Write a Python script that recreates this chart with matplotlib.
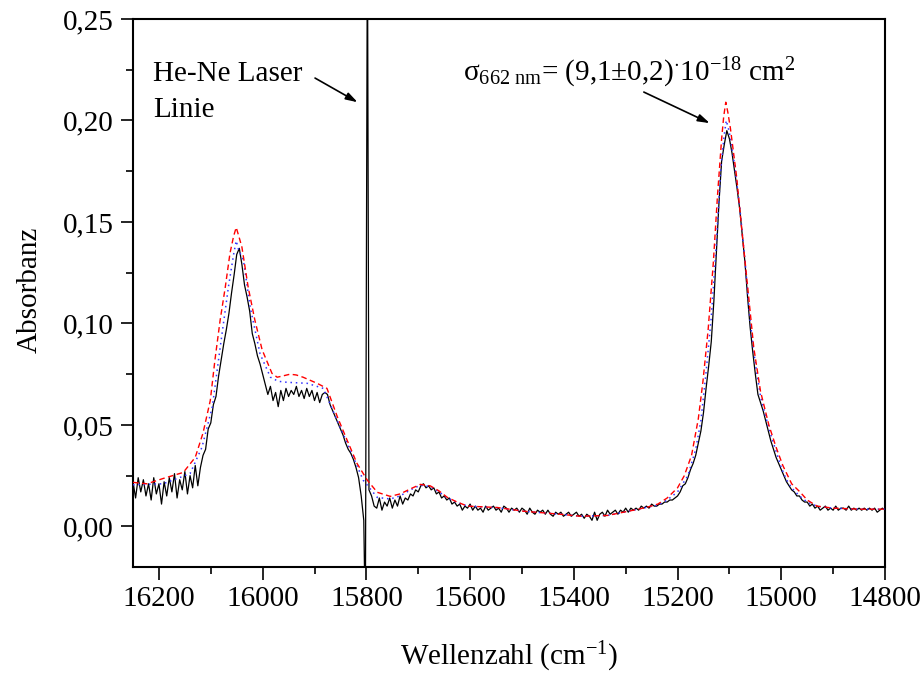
import numpy as np
import matplotlib
matplotlib.use("Agg")
import matplotlib.pyplot as plt
from matplotlib.ticker import MultipleLocator, FixedLocator, FixedFormatter

plt.rcParams['font.family'] = ['Liberation Serif', 'DejaVu Serif']
plt.rcParams['mathtext.fontset'] = 'custom'
plt.rcParams['mathtext.rm'] = 'Liberation Serif'
plt.rcParams['mathtext.it'] = 'Liberation Serif:italic'
plt.rcParams['mathtext.bf'] = 'Liberation Serif:bold'

# ---------------- data (absorbance in milli-units) ----------------
# measured spectrum, segment before the He-Ne line (16250 -> 15805, step 5)
wn_seg_a = np.arange(16250, 15804, -5)
abs_seg_a_milli = [
    22, 14, 24, 17, 23, 15, 21, 13, 24, 16,
    21, 11, 22, 15, 24, 17, 26, 14, 23, 18,
    27, 16, 25, 19, 30, 20, 29, 35, 38, 48,
    51, 60, 64, 74, 82, 90, 97, 105, 115, 124,
    134, 137, 129, 119, 113, 106, 95, 90, 84, 80,
    75, 70, 65, 69, 62, 66, 59, 67, 62, 68,
    64, 67, 65, 69, 64, 67, 63, 68, 64, 67,
    62, 66, 61, 65, 66, 65, 60, 57, 54, 51,
    48, 45, 41, 38, 36, 33, 29, 24, 15, 3,
]
# He-Ne laser line artefact
wn_laser = [15802, 15798, 15795]
abs_laser_milli = [-50, 300, 18]
# segment after the laser line (15790 -> 14800, step 5)
wn_seg_b = np.arange(15790, 14799, -5)
abs_seg_b_milli = [
    15, 10, 9, 14, 8, 12, 10, 14, 9, 13,
    10, 15, 11, 14, 13, 16, 15, 18, 17, 20,
    21, 19, 20, 18, 19, 16, 17, 14, 15, 13,
    14, 11, 12, 10, 11, 8, 10, 9, 11, 8,
    10, 8, 9, 7, 10, 8, 9, 10, 8, 9,
    7, 10, 9, 7, 9, 8, 9, 7, 9, 8,
    6, 9, 7, 6, 8, 7, 8, 6, 8, 6,
    5, 7, 6, 7, 5, 6, 7, 5, 6, 7,
    5, 6, 4, 6, 5, 3, 7, 3, 6, 7,
    5, 8, 6, 7, 8, 6, 8, 7, 9, 7,
    9, 8, 9, 8, 10, 9, 10, 9, 11, 10,
    10, 11, 11, 12, 12, 13, 13, 14, 15, 17,
    20, 21, 24, 28, 31, 35, 41, 47, 56, 68,
    79, 91, 111, 135, 160, 180, 188, 195, 191, 184,
    175, 166, 156, 143, 130, 113, 98, 86, 75, 65,
    61, 57, 52, 47, 42, 38, 34, 31, 28, 25,
    22, 20, 18, 17, 15, 15, 13, 12, 12, 10,
    11, 9, 10, 8, 9, 10, 8, 9, 8, 10,
    8, 9, 9, 8, 10, 8, 9, 8, 9, 8,
    9, 8, 9, 8, 9, 7, 8, 9, 8,
]

# fit 1 (red dashed)
fit_red_wn = [16250, 16223, 16192, 16153, 16130, 16115, 16101, 16092, 16082, 16072,
              16063, 16056, 16051, 16046, 16040, 16028, 16015, 16001, 15982, 15972,
              15960, 15947, 15935, 15922, 15895, 15876, 15856, 15837, 15818, 15798,
              15779, 15754, 15735, 15715, 15696, 15677, 15660, 15644, 15625, 15605,
              15547, 15497, 15426, 15387, 15335, 15285, 15258, 15238, 15220, 15200,
              15187, 15173, 15160, 15151, 15141, 15131, 15123, 15115, 15111, 15107,
              15103, 15098, 15086, 15076, 15066, 15053, 15040, 15024, 15010, 14997,
              14980, 14964, 14950, 14931, 14900, 14850, 14800]
fit_red_milli = [21.7, 21, 23.6, 26.6, 34, 46, 62, 82, 101.6, 118,
                 134.6, 143, 147.3, 143, 137.6, 118, 101.6, 87, 75.4, 73.5,
                 74.2, 75, 74.6, 73.5, 70.5, 68, 54, 42.4, 31, 22.7,
                 16.8, 14.8, 16, 18.5, 20.7, 20, 17.5, 14.3, 12, 10,
                 9.3, 7.5, 6, 5, 5.4, 8, 9.5, 11, 14, 19,
                 25, 35, 53, 71.5, 97, 130, 163, 191, 202, 209,
                 204, 196, 172, 146, 121, 88, 66.5, 50, 39, 30,
                 21, 17, 13, 10, 9, 8.5, 8.5]

# fit 2 (blue dotted)
fit_blue_wn = [16250, 16192, 16140, 16117, 16097, 16082, 16066, 16056, 16051, 16046,
               16037, 16024, 16005, 15985, 15970, 15953, 15914, 15883, 15856, 15830,
               15806, 15779, 15754, 15735, 15715, 15696, 15677, 15660, 15644, 15625,
               15605, 15547, 15497, 15426, 15387, 15335, 15285, 15258, 15238, 15220,
               15200, 15180, 15165, 15155, 15145, 15135, 15125, 15117, 15110, 15106,
               15100, 15090, 15080, 15070, 15060, 15050, 15040, 15030, 15020, 15010,
               15000, 14990, 14980, 14965, 14950, 14930, 14900, 14850, 14800]
fit_blue_milli = [20.5, 21, 26, 39, 59, 88, 118, 134, 140.7, 136,
                  131, 108, 85, 73.5, 71.5, 71, 70.5, 68, 52, 37,
                  22.7, 14.3, 13.5, 15, 18, 20.3, 19.6, 17, 14, 11.8,
                  10, 9.2, 7.5, 6, 5, 5.4, 8, 9.5, 10.5, 13,
                  17, 25, 38, 52, 76, 103, 140, 175, 193, 200,
                  194, 178, 157, 131, 101, 80, 64, 54, 45, 37,
                  29, 23, 19, 15, 12, 9.8, 9, 8.5, 8.5]

x_major_ticks = [16200, 16000, 15800, 15600, 15400, 15200, 15000, 14800]
x_tick_labels = ['16200', '16000', '15800', '15600', '15400', '15200', '15000', '14800']
y_major_ticks = [0.00, 0.05, 0.10, 0.15, 0.20, 0.25]
y_tick_labels = ['0,00', '0,05', '0,10', '0,15', '0,20', '0,25']

# ---------------- assemble ----------------
wn = np.concatenate([wn_seg_a, wn_laser, wn_seg_b])
absorb = np.concatenate([abs_seg_a_milli, abs_laser_milli, abs_seg_b_milli]) / 1000.0
red = np.array(fit_red_milli) / 1000.0
blue = np.array(fit_blue_milli) / 1000.0

fig = plt.figure(figsize=(9.21, 6.74), dpi=100)
ax = fig.add_axes([133 / 921, (674 - 567) / 674, (885 - 133) / 921, (567 - 19) / 674])

ax.plot(wn, absorb, color='black', lw=0.9, zorder=3)
ax.plot(fit_blue_wn, blue, color='#3333ff', lw=1.1, ls=(0, (1, 2.5)), zorder=4)
ax.plot(fit_red_wn, red, color='#ff0000', lw=1.0, ls=(0, (4, 2.5)), zorder=5)

ax.set_xlim(16250, 14800)
ax.set_ylim(-0.02, 0.25)

ax.xaxis.set_major_locator(FixedLocator(x_major_ticks))
ax.xaxis.set_major_formatter(FixedFormatter(x_tick_labels))
ax.xaxis.set_minor_locator(MultipleLocator(100))
ax.yaxis.set_major_locator(FixedLocator(y_major_ticks))
ax.yaxis.set_major_formatter(FixedFormatter(y_tick_labels))
ax.yaxis.set_minor_locator(MultipleLocator(0.025))

ax.tick_params(which='both', direction='out', top=False, right=False, width=1.2,
               labelsize=21, colors='black')
ax.tick_params(which='major', length=9, pad=5)
ax.tick_params(which='minor', length=5)
for s in ax.spines.values():
    s.set_linewidth(1.5)

# annotations
ax.text(16211, 0.2194, 'He-Ne Laser', fontsize=21, ha='left', va='baseline')
ax.text(16211, 0.2017, 'Linie', fontsize=21, ha='left', va='baseline')
ax.annotate('', xy=(15817, 0.2090), xytext=(15899, 0.2209),
            arrowprops=dict(arrowstyle='-|>,head_length=0.7,head_width=0.22',
                            color='black', lw=1.2, shrinkA=0, shrinkB=0))

ax.text(15613, 0.2194,
        'σ$_{662\\ \\mathrm{nm}}$= (9,1±0,2)$^{\\cdot}$10$^{-18}$ cm$^{2}$',
        fontsize=21, ha='left', va='baseline')
ax.annotate('', xy=(15138, 0.1987), xytext=(15265, 0.2140),
            arrowprops=dict(arrowstyle='-|>,head_length=0.7,head_width=0.22',
                            color='black', lw=1.2, shrinkA=0, shrinkB=0))

fig.text(30 / 921, 1 - 290 / 674, 'Absorbanz', rotation=90, fontsize=21,
         ha='center', va='center')
fig.text(509 / 921, 1 - 657 / 674, 'Wellenzahl (cm$^{-1}$)', fontsize=21,
         ha='center', va='center')

fig.savefig('out.png', dpi=100)
